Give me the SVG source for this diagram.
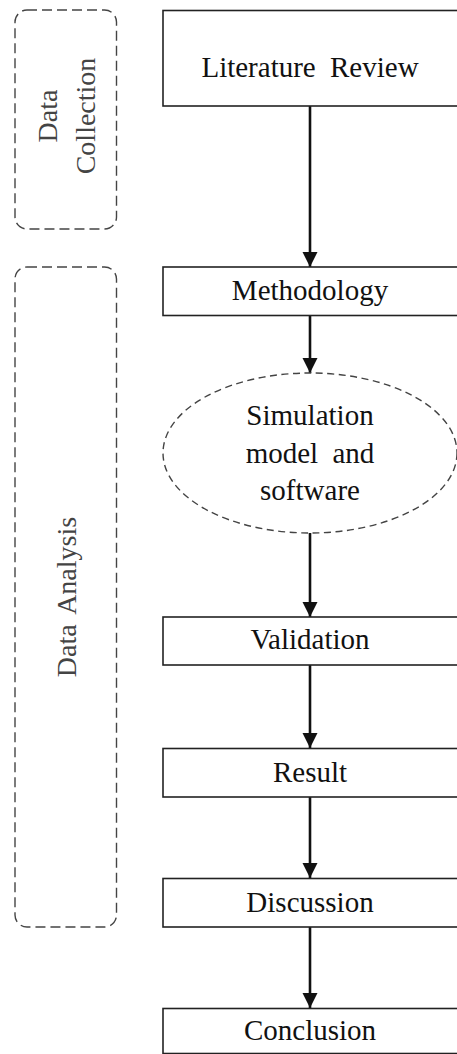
<svg xmlns="http://www.w3.org/2000/svg" width="457" height="1054" viewBox="0 0 457 1054">
<style>
.box{fill:#fff;stroke:#222;stroke-width:1.6}
.grp{fill:none;stroke:#444;stroke-width:1.4;stroke-dasharray:10 5}
.ell{fill:#fff;stroke:#444;stroke-width:1.4;stroke-dasharray:7 4.5}
.t{font-size:29px;fill:#111;text-anchor:middle}
.g{font-size:28px;fill:#444;text-anchor:middle}
.c{stroke:#111;stroke-width:2.6;fill:none;marker-end:url(#ah)}
</style>
<defs>
<marker id="ah" markerUnits="userSpaceOnUse" markerWidth="16" markerHeight="17" refX="15" refY="7.5" orient="auto">
<path d="M0,0 L15,7.5 L0,15 Z" fill="#111"/>
</marker>
</defs>
<rect width="457" height="1054" fill="#fff"/>
<g font-family="'Liberation Serif', 'DejaVu Serif', serif">
<g id="group-data-collection">
<rect class="grp" x="15" y="10" width="101.5" height="219" rx="12"/>
<text class="g" transform="translate(57,116) rotate(-90)">Data</text>
<text class="g" transform="translate(95,116) rotate(-90)">Collection</text>
</g>
<g id="group-data-analysis">
<rect class="grp" x="15" y="267" width="101.5" height="660" rx="12"/>
<text class="g" transform="translate(76,597) rotate(-90)" word-spacing="4">Data Analysis</text>
</g>
<g id="connectors">
<line class="c" x1="310" y1="106" x2="310" y2="267"/>
<line class="c" x1="310" y1="316" x2="310" y2="373"/>
<line class="c" x1="310" y1="533" x2="310" y2="617"/>
<line class="c" x1="310" y1="665" x2="310" y2="748"/>
<line class="c" x1="310" y1="797" x2="310" y2="878"/>
<line class="c" x1="310" y1="927" x2="310" y2="1008"/>
</g>
<g id="node-literature-review">
<rect class="box" x="163" y="10.5" width="300" height="95.5"/>
<text class="t" x="310" y="77" word-spacing="7">Literature Review</text>
</g>
<g id="node-methodology">
<rect class="box" x="163" y="267" width="300" height="48.5"/>
<text class="t" x="310" y="300">Methodology</text>
</g>
<g id="node-simulation">
<ellipse class="ell" cx="310" cy="453" rx="147" ry="80"/>
<text class="t" x="310" y="425">Simulation</text>
<text class="t" x="310" y="463" word-spacing="7">model and</text>
<text class="t" x="310" y="500">software</text>
</g>
<g id="node-validation">
<rect class="box" x="163" y="617" width="300" height="48"/>
<text class="t" x="310" y="649">Validation</text>
</g>
<g id="node-result">
<rect class="box" x="163" y="748.5" width="300" height="48.5"/>
<text class="t" x="310" y="781.5">Result</text>
</g>
<g id="node-discussion">
<rect class="box" x="163" y="878.5" width="300" height="48.5"/>
<text class="t" x="310" y="911.5">Discussion</text>
</g>
<g id="node-conclusion">
<rect class="box" x="163" y="1008.5" width="300" height="45"/>
<text class="t" x="310" y="1040">Conclusion</text>
</g>
</g>
</svg>
